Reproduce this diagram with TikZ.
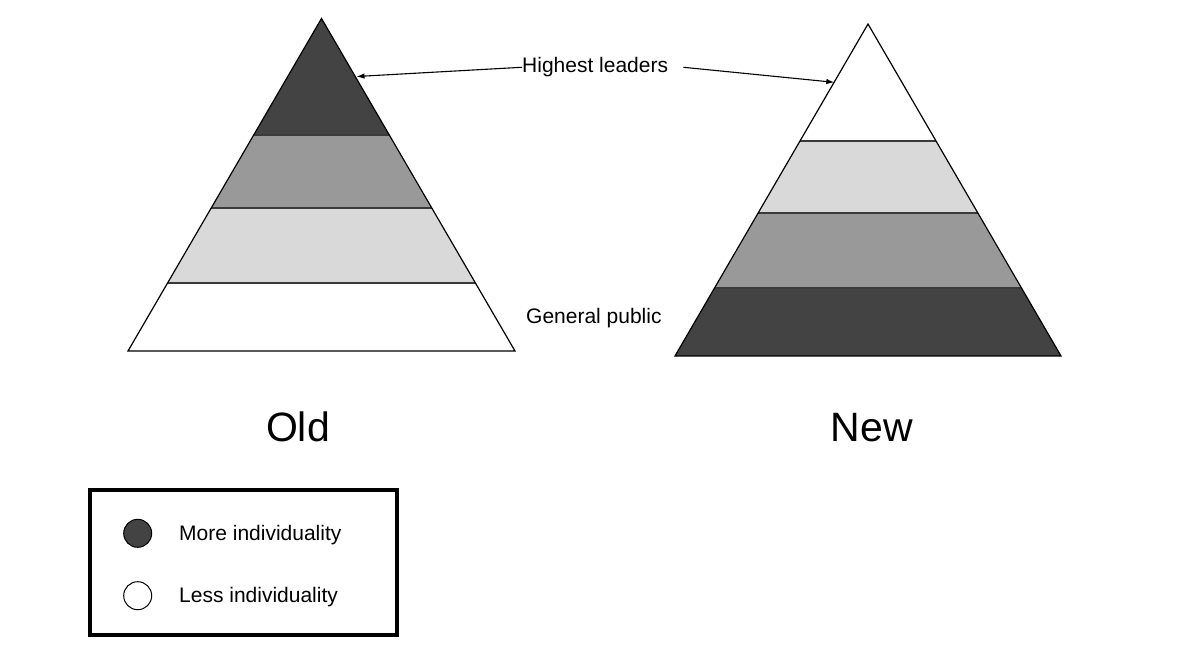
\documentclass[tikz,border=0pt]{standalone}
\usepackage{fontspec}
\setmainfont{Liberation Sans}
\usetikzlibrary{arrows.meta}

\definecolor{darkband}{HTML}{434343}
\definecolor{midband}{HTML}{999999}
\definecolor{lightband}{HTML}{D9D9D9}
\definecolor{bandline}{HTML}{3A3A3A}

\tikzset{
  txt/.style={inner sep=0pt, anchor=base west, font=\fontsize{21}{25}\selectfont},
  bigtxt/.style={inner sep=0pt, anchor=base, font=\fontsize{41}{48}\selectfont},
  edge/.style={draw=black, line width=1.2pt, line join=miter},
  sepline/.style={draw=bandline, line width=1.8pt},
  pointer/.style={draw=black, line width=1.1pt, -{Latex[length=8pt,width=5.5pt]}},
  dot/.style={circle, draw=black, line width=1pt, minimum size=28pt, inner sep=0pt},
  legendbox/.style={draw=black, line width=4pt, minimum width=307pt, minimum height=145pt, inner sep=0pt}
}

\begin{document}
\begin{tikzpicture}[x=1pt, y=-1pt]
\useasboundingbox (0,0) rectangle (1189,665);
\fill[white] (0,0) rectangle (1189,665);

% ---- old pyramid: individuality concentrated at the top ----
\begin{scope}
  \clip (321.5,18.5) -- (128,351) -- (515,351) -- cycle;
  \fill[darkband]  (100,0)   rectangle (540,135);
  \fill[midband]   (100,135) rectangle (540,208);
  \fill[lightband] (100,208) rectangle (540,283);
  \fill[white]     (100,283) rectangle (540,351);
  \draw[sepline] (100,135) -- (540,135);
  \draw[sepline] (100,208) -- (540,208);
  \draw[sepline] (100,283) -- (540,283);
\end{scope}
\draw[edge] (321.5,18.5) -- (128,351) -- (515,351) -- cycle;

% ---- new pyramid: individuality concentrated at the base ----
\begin{scope}
  \clip (868,24) -- (675,356) -- (1061,356) -- cycle;
  \fill[white]     (650,0)   rectangle (1090,141);
  \fill[lightband] (650,141) rectangle (1090,213);
  \fill[midband]   (650,213) rectangle (1090,288);
  \fill[darkband]  (650,288) rectangle (1090,356);
  \draw[sepline] (650,141) -- (1090,141);
  \draw[sepline] (650,213) -- (1090,213);
  \draw[sepline] (650,288) -- (1090,288);
\end{scope}
\draw[edge] (868,24) -- (675,356) -- (1061,356) -- cycle;

% ---- labels ----
\node[txt] (hl) at (522,72.7) {Highest leaders};
\node[txt] (gp) at (526,323) {General public};
\node[bigtxt] (old) at (298,441) {Old};
\node[bigtxt] (new) at (872,441) {New};

% ---- leader arrows ----
\coordinate (oldtip) at (356.5,76.5);
\coordinate (newtip) at (834.3,82.3);
\draw[pointer] (hl.west) -- (oldtip);
\draw[pointer] ([xshift=15pt]hl.east) -- (newtip);

% ---- legend ----
\node[legendbox] (legend) at (243.5,562.5) {};
\node[dot, fill=darkband] (moredot) at (137.7,533.3) {};
\node[dot, fill=white] (lessdot) at (137.7,595.7) {};
\node[txt] (moretxt) at (179,540.5) {More individuality};
\node[txt] (lesstxt) at (179,602.5) {Less individuality};
\end{tikzpicture}
\end{document}
